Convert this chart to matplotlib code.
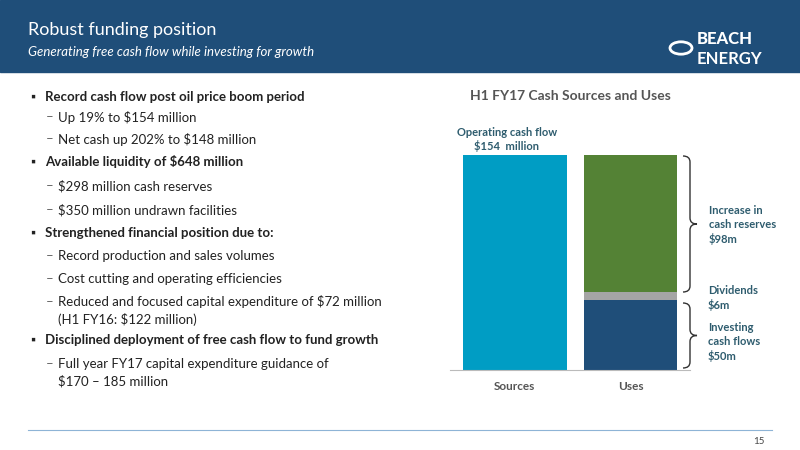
import matplotlib
matplotlib.use("Agg")
import matplotlib.pyplot as plt
from matplotlib.path import Path
from matplotlib.patches import PathPatch, Rectangle, Circle

plt.rcParams['font.family'] = ['Lato', 'DejaVu Sans']

categories = ["Sources", "Uses"]
sources_value = 154
investing = 50
dividends = 6
increase = 98

W, H = 800, 450
fig = plt.figure(figsize=(8, 4.5), dpi=100)

def fx(x): return x / W
def fy(y): return 1 - y / H

# header
fig.patches.append(Rectangle((0, fy(72)), 1, 72 / H, transform=fig.transFigure, color="#1F4E79", zorder=0))
fig.text(fx(28), fy(30), "Robust funding position", color="white", fontsize=13, va="center")
fig.text(fx(28), fy(52), "Generating free cash flow while investing for growth", color="white",
         fontsize=9.5, style="italic", va="center")
fig.patches.append(Circle((fx(681), fy(48)), 11 / W, transform=fig.transFigure, fill=False, ec="white", lw=2))
fig.text(fx(697), fy(39), "BEACH", color="white", fontsize=12, weight="black", va="center")
fig.text(fx(697), fy(59), "ENERGY", color="white", fontsize=12, weight="bold", va="center")

# bullets
tc = "#222222"
items = [
    (0, 97, "Record cash flow post oil price boom period"),
    (1, 117, "Up 19% to \\$154 million"),
    (1, 139, "Net cash up 202% to \\$148 million"),
    (0, 162, "Available liquidity of \\$648 million"),
    (1, 186, "\\$298 million cash reserves"),
    (1, 210, "\\$350 million undrawn facilities"),
    (0, 233, "Strengthened financial position due to:"),
    (1, 256, "Record production and sales volumes"),
    (1, 279, "Cost cutting and operating efficiencies"),
    (1, 302, "Reduced and focused capital expenditure of \\$72 million"),
    (2, 320, "(H1 FY16: \\$122 million)"),
    (0, 340, "Disciplined deployment of free cash flow to fund growth"),
    (1, 364, "Full year FY17 capital expenditure guidance of"),
    (2, 381, "\\$170 – 185 million"),
]
for lvl, y, t in items:
    if lvl == 0:
        fig.text(fx(30), fy(y), "▪", color=tc, fontsize=9, va="center")
        fig.text(fx(45), fy(y), t, color=tc, fontsize=9.5, weight="bold", va="center")
    else:
        if lvl == 1:
            fig.text(fx(46), fy(y), "–", color="#666666", fontsize=9.5, va="center")
        fig.text(fx(58), fy(y), t, color=tc, fontsize=9.5, va="center")

# chart
fig.text(fx(570), fy(96), "H1 FY17 Cash Sources and Uses", color="#555555", fontsize=10,
         weight="bold", ha="center", va="center")
ax = fig.add_axes([fx(450), fy(370), 240 / W, 215 / H])
ax.bar(0, sources_value, width=0.9, color="#009DC4")
ax.bar(1, investing, width=0.8, color="#1F4E79")
ax.bar(1, dividends, bottom=investing, width=0.8, color="#A5A5A5")
ax.bar(1, increase, bottom=investing + dividends, width=0.8, color="#548235")
ax.set_ylim(0, sources_value)
ax.set_xlim(-0.56, 1.51)
ax.set_xticks([0, 1])
ax.set_xticklabels(categories, fontsize=8.5, color="#555555", weight="bold")
ax.tick_params(length=0, pad=8)
ax.set_yticks([])
for s in ["top", "right", "left"]:
    ax.spines[s].set_visible(False)
ax.spines["bottom"].set_color("#BBBBBB")

lc = "#2E5C6E"
fig.text(fx(507), fy(140), "Operating cash flow\n\\$154  million", color=lc, fontsize=8,
         weight="bold", ha="center", va="center", linespacing=1.2)

def brace(y0, y1, x0=683, w=14):
    ym = (y0 + y1) / 2
    pts = [(x0, y0), (x0 + w / 2, y0), (x0 + w / 2, y0 + 6), (x0 + w / 2, ym - 6),
           (x0 + w / 2, ym), (x0 + w, ym), (x0 + w / 2, ym), (x0 + w / 2, ym + 6),
           (x0 + w / 2, y1 - 6), (x0 + w / 2, y1), (x0, y1)]
    codes = [Path.MOVETO, Path.CURVE3, Path.CURVE3, Path.LINETO, Path.CURVE3, Path.CURVE3,
             Path.CURVE3, Path.CURVE3, Path.LINETO, Path.CURVE3, Path.CURVE3]
    p = Path([(fx(a), fy(b)) for a, b in pts], codes)
    fig.patches.append(PathPatch(p, transform=fig.transFigure, fill=False, ec="#333333", lw=1))

brace(156, 292)
brace(303, 368)
fig.text(fx(709), fy(225), "Increase in\ncash reserves\n\\$98m", color=lc, fontsize=8, weight="bold",
         va="center", linespacing=1.35)
fig.text(fx(708), fy(298), "Dividends\n\\$6m", color=lc, fontsize=8, weight="bold", va="center", linespacing=1.35)
fig.text(fx(708), fy(342), "Investing\ncash flows\n\\$50m", color=lc, fontsize=8, weight="bold",
         va="center", linespacing=1.35)

# footer
fig.add_artist(plt.Line2D([fx(28), fx(772)], [fy(430), fy(430)], color="#8EB4D6", lw=0.8))
fig.text(fx(765), fy(441), "15", color="#444444", fontsize=7, ha="right", va="center")

fig.savefig("out.png", dpi=100)
